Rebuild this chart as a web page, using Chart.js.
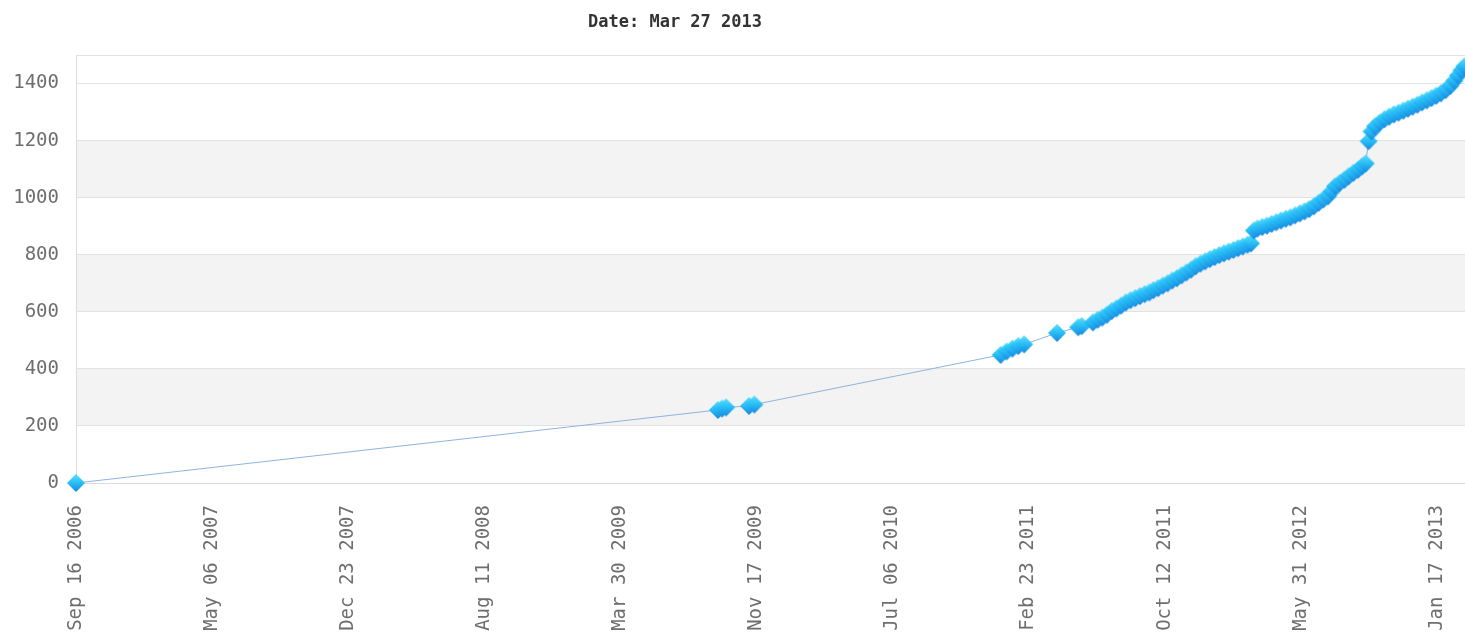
<!DOCTYPE html>
<html>
<head>
<meta charset="utf-8">
<script src="https://cdn.jsdelivr.net/npm/chart.js@4.4.1/dist/chart.umd.min.js"></script>
<style>
  body { margin: 0; background: #fff; }
  #wrap { position: relative; width: 1465px; height: 635px; }
  #title {
    position: absolute; left: 588px; top: 11px;
    font: bold 17px "DejaVu Sans Mono", monospace; color: #333;
    white-space: nowrap;
  }
</style>
</head>
<body>
<div id="wrap">
  <div id="title">Date: Mar 27 2013</div>
  <canvas id="chart" width="1465" height="635"></canvas>
</div>
<script>
// x = days since Sep 16 2006 (noon), y = running total on that day
const startDate = Date.UTC(2006, 8, 16, 12);

const days = [
  0,
  1092, 1099, 1106,
  1145, 1154,
  1573, 1583, 1593, 1603, 1613,
  1669,
  1705, 1711,
  1730, 1738, 1746, 1754, 1762, 1770, 1778, 1786, 1794, 1802, 1810, 1818,
  1826, 1833, 1841, 1849, 1857, 1865, 1873, 1881, 1889, 1897, 1905, 1913,
  1921, 1929, 1937, 1945, 1953, 1961, 1969, 1977, 1985, 1993, 1999,
  2004, 2010, 2018, 2026, 2034, 2042, 2050, 2058, 2066, 2074, 2082, 2090,
  2098, 2106, 2114, 2122, 2130, 2136, 2142, 2150, 2158, 2165, 2173, 2181,
  2188, 2194,
  2199, 2204, 2210, 2218, 2226, 2234, 2242, 2250, 2258, 2266, 2274, 2282,
  2290, 2298, 2306, 2314, 2322, 2330, 2338, 2345, 2351, 2357, 2362
];

const totals = [
  0,
  256, 261, 265,
  270, 275,
  449, 461, 471, 480, 486,
  526,
  546, 550,
  563, 572, 580, 590, 603, 612, 622, 633, 641, 648, 655, 662,
  668, 676, 683, 692, 700, 710, 718, 728, 738, 748, 760, 769,
  777, 785, 792, 799, 805, 811, 817, 823, 829, 835, 840,
  885, 892, 897, 902, 908, 914, 920, 926, 931, 938, 945, 952,
  960, 970, 982, 994, 1005, 1022, 1040, 1052, 1063, 1075, 1087, 1098,
  1110, 1120,
  1198, 1232, 1250, 1263, 1275, 1284, 1292, 1298, 1305, 1312, 1319, 1326,
  1334, 1341, 1349, 1357, 1366, 1377, 1392, 1410, 1428, 1446, 1460
];

// x ticks every 231.5 days
const tickDays = [0, 231.5, 463, 694.5, 926, 1157.5, 1389, 1620.5, 1852, 2083.5, 2315];
const dayMax = 2363;
const yMax = 1500;
const yStep = 200;

const monthNames = ["Jan", "Feb", "Mar", "Apr", "May", "Jun",
                    "Jul", "Aug", "Sep", "Oct", "Nov", "Dec"];

const fmtDay = (n) => {
  const d = new Date(startDate + n * 86400000);
  const dd = String(d.getUTCDate()).padStart(2, "0");
  return monthNames[d.getUTCMonth()] + " " + dd + " " + d.getUTCFullYear();
};

// shaded diamond used as the point marker
const makeDiamond = (r) => {
  const c = document.createElement("canvas");
  c.width = c.height = r * 2 + 2;
  const g = c.getContext("2d");
  const m = r + 1;
  const grad = g.createLinearGradient(0, 0, 0, c.height);
  grad.addColorStop(0, "#5ee3ff");
  grad.addColorStop(0.5, "#27bdf6");
  grad.addColorStop(1, "#1680dc");
  g.beginPath();
  g.moveTo(m, 1);
  g.lineTo(c.width - 1, m);
  g.lineTo(m, c.height - 1);
  g.lineTo(1, m);
  g.closePath();
  g.fillStyle = grad;
  g.fill();
  return c;
};

// grey stripes behind every other 200 band
const bands = {
  id: "bands",
  beforeDraw(chart) {
    const { ctx, chartArea, scales } = chart;
    const y = scales.y;
    ctx.save();
    ctx.fillStyle = "#f3f3f3";
    y.ticks.forEach(t => {
      if (t.value % (yStep * 2) === yStep && t.value + yStep <= yMax) {
        const top = y.getPixelForValue(t.value + yStep);
        const bot = y.getPixelForValue(t.value);
        ctx.fillRect(chartArea.left, top, chartArea.right - chartArea.left, bot - top);
      }
    });
    ctx.restore();
  }
};

const tickFont = { family: "DejaVu Sans Mono", size: 19 };

new Chart(document.getElementById("chart"), {
  type: "line",
  data: {
    datasets: [{
      data: days.map((d, i) => ({ x: d, y: totals[i] })),
      borderColor: "#8db4e0",
      borderWidth: 1,
      pointStyle: makeDiamond(9),
      pointRadius: 9,
      tension: 0,
      clip: false
    }]
  },
  plugins: [bands],
  options: {
    responsive: false,
    devicePixelRatio: 1,
    animation: false,
    layout: { autoPadding: false, padding: { top: 55, left: 0, right: 0, bottom: 0 } },
    plugins: {
      legend: { display: false },
      title: { display: false },
      tooltip: { enabled: false }
    },
    scales: {
      x: {
        type: "linear",
        min: 0,
        max: dayMax,
        grid: { display: false, drawTicks: false },
        border: { color: "#dcdcdc" },
        afterBuildTicks: s => {
          s.ticks = tickDays.map(v => ({ value: v }));
        },
        ticks: {
          autoSkip: false,
          minRotation: 90,
          maxRotation: 90,
          padding: 22,
          color: "#6e6e6e",
          font: tickFont,
          callback: v => fmtDay(v)
        },
        afterFit: s => {
          s.height = 152;
          s.paddingLeft = 0;
          s.paddingRight = 0;
        }
      },
      y: {
        min: 0,
        max: yMax,
        grid: { color: "#e2e2e2", drawTicks: false },
        border: { color: "#dcdcdc" },
        ticks: {
          stepSize: yStep,
          padding: 17,
          color: "#6e6e6e",
          font: tickFont,
          callback: v => (v % yStep === 0 ? v : "")
        },
        afterFit: s => {
          s.width = 76;
          s.paddingTop = 0;
          s.paddingBottom = 0;
        }
      }
    }
  }
});
</script>
</body>
</html>
